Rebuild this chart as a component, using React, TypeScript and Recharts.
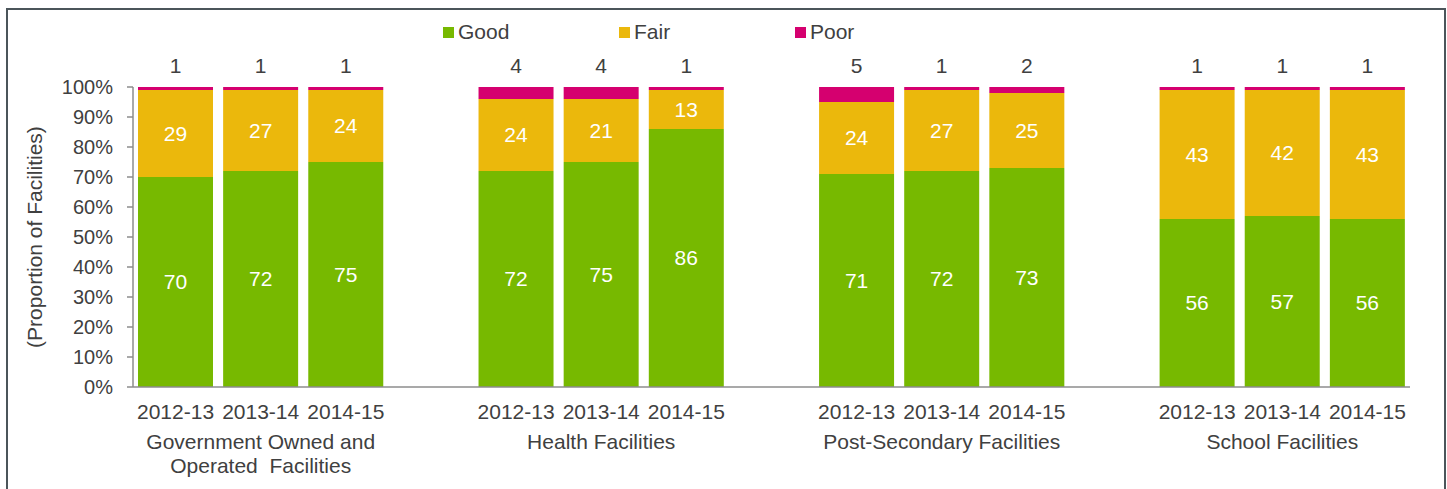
import { BarChart, Bar, XAxis, YAxis, LabelList, Legend } from "recharts";

const groups = ["Government Owned and\nOperated  Facilities", "Health Facilities", "Post-Secondary Facilities", "School Facilities"];
const years = ["2012-13", "2013-14", "2014-15"];
const goodValues = [[70, 72, 75], [72, 75, 86], [71, 72, 73], [56, 57, 56]];
const fairValues = [[29, 27, 24], [24, 21, 13], [24, 27, 25], [43, 42, 43]];
const poorValues = [[1, 1, 1], [4, 4, 1], [5, 1, 2], [1, 1, 1]];
const yTicks = [0, 10, 20, 30, 40, 50, 60, 70, 80, 90, 100];

const GOOD = "#77b900";
const FAIR = "#ebb80c";
const POOR = "#d5006f";
const TEXT = "#404040";
const FONT = "'Liberation Sans', Arial, sans-serif";

const series = [
  { key: "good", name: "Good", color: GOOD },
  { key: "fair", name: "Fair", color: FAIR },
  { key: "poor", name: "Poor", color: POOR },
];

type Row = { key: string; year?: string; group?: string; good?: number; fair?: number; poor?: number };

// one category per bar, plus an empty category between groups
const rows: Row[] = [];
groups.forEach((g, gi) => {
  if (gi > 0) rows.push({ key: `gap-${gi}` });
  years.forEach((y, yi) => {
    rows.push({
      key: `${gi}-${y}`,
      year: y,
      group: yi === 1 ? g : undefined,
      good: goodValues[gi][yi],
      fair: fairValues[gi][yi],
      poor: poorValues[gi][yi],
    });
  });
});
const rowByKey = new Map(rows.map((r) => [r.key, r]));

function CategoryTick(props: any) {
  const { x, y, payload } = props;
  const row = rowByKey.get(payload.value);
  if (!row || !row.year) return null;
  const lines = row.group ? row.group.split("\n") : [];
  return (
    <g>
      <text x={x} y={y} dy={32} textAnchor="middle" fill={TEXT} fontSize={21}>{row.year}</text>
      {lines.map((l, i) => (
        <text key={i} x={x} y={y} dy={62 + i * 24} textAnchor="middle" fill={TEXT} fontSize={21} style={{ whiteSpace: "pre" }}>{l}</text>
      ))}
    </g>
  );
}

function LegendContent() {
  return (
    <div style={{ display: "flex" }}>
      {series.map((s) => (
        <div key={s.key} style={{ width: 176, display: "flex", alignItems: "center", color: TEXT, fontSize: 21 }}>
          <span style={{ width: 11, height: 11, background: s.color, marginRight: 4, display: "inline-block" }} />
          {s.name}
        </div>
      ))}
    </div>
  );
}

const blank = (v: any) => (v == null ? "" : v);

export default function App() {
  return (
    <div style={{ position: "absolute", left: 0, top: 0, width: 1447, height: 489, background: "#fff", fontFamily: FONT, overflow: "hidden" }}>
      <div style={{ position: "absolute", left: 6, top: 8, width: 1436, height: 500, border: "2px solid #4b555a" }} />
      <div style={{ position: "absolute", left: 0, top: 0 }}>
        <BarChart width={1447} height={489} data={rows} margin={{ top: 87, right: 37, bottom: 0, left: 73 }} barCategoryGap={5}>
          <XAxis dataKey="key" interval={0} tickLine={false} tickSize={0} tickMargin={0} height={102} stroke="#8c8c8c" strokeWidth={1.5} tick={<CategoryTick />} />
          <YAxis
            width={60}
            domain={[0, 100]}
            ticks={yTicks}
            interval={0}
            tickFormatter={(v) => `${v}%`}
            stroke="#8c8c8c"
            strokeWidth={1.5}
            tickSize={6}
            tickMargin={14}
            tick={{ fill: TEXT, fontSize: 20 }}
            label={{ value: "(Proportion of Facilities)", angle: -90, position: "insideLeft", dx: -43, dy: 0, fill: TEXT, fontSize: 21, style: { textAnchor: "middle" } }}
          />
          <Legend verticalAlign="middle" align="center" layout="horizontal" content={<LegendContent />} wrapperStyle={{ top: 20, left: 443, width: 600 }} />
          <Bar dataKey="good" name="Good" stackId="a" fill={GOOD} isAnimationActive={false}>
            <LabelList dataKey="good" position="center" fill="#fff" fontSize={21} formatter={blank} />
          </Bar>
          <Bar dataKey="fair" name="Fair" stackId="a" fill={FAIR} isAnimationActive={false}>
            <LabelList dataKey="fair" position="center" fill="#fff" fontSize={21} formatter={blank} />
          </Bar>
          <Bar dataKey="poor" name="Poor" stackId="a" fill={POOR} isAnimationActive={false}>
            <LabelList dataKey="poor" position="top" offset={14} fill={TEXT} fontSize={21} formatter={blank} />
          </Bar>
        </BarChart>
      </div>
    </div>
  );
}
